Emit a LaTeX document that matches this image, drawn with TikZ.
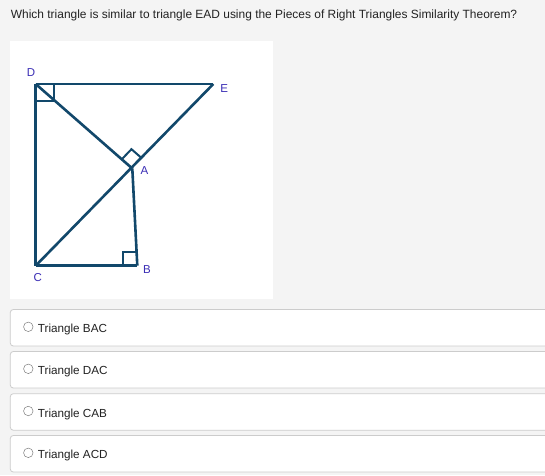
\documentclass[tikz,border=0pt]{standalone}
\usepackage{fontspec}
\setmainfont{Liberation Sans}
\usetikzlibrary{calc}
\definecolor{pagebg}{HTML}{F4F4F4}
\definecolor{boxline}{HTML}{CCCCCC}
\definecolor{geo}{HTML}{12486B}
\definecolor{lbl}{HTML}{3A2DB5}
\definecolor{txt}{HTML}{222222}
\begin{document}
\begin{tikzpicture}[x=1pt,y=-1pt,
  seg/.style={draw=geo,line width=2.6pt},
  ramark/.style={draw=geo,line width=2pt},
  ptlabel/.style={text=lbl,font=\fontsize{11.5}{13}\selectfont,inner sep=0pt},
  optbox/.style={draw=boxline,fill=white,line width=0.8pt,rounded corners=3pt},
  opttext/.style={anchor=base west,inner sep=0pt,text=txt,font=\fontsize{11.7}{14}\selectfont},
  radio/.style={draw=black!50,fill=white,line width=0.5pt,circle,minimum size=9.5pt,inner sep=0pt}]
\useasboundingbox (0,0) rectangle (545,475);
\fill[pagebg] (0,0) rectangle (545,475);
\node[anchor=base west,inner sep=0pt,text=txt,font=\fontsize{11.95}{14}\selectfont] (q) at (10.7,18.5) {Which triangle is similar to triangle EAD using the Pieces of Right Triangles Similarity Theorem?};
% figure panel
\fill[white] (10,41) rectangle (272.5,299);
\coordinate (D) at (35.7,84);
\coordinate (E) at (213.3,84);
\coordinate (A) at (132.3,168.5);
\coordinate (C) at (35.7,265.7);
\coordinate (B) at (137.3,265.7);
% right angle marks
\draw[ramark] ($(D)+(18,0)$) -- ($(D)+(18,16.5)$) -- ($(D)+(0,16.5)$);
\draw[ramark] ($(A)!14pt!(D)$) -- ($(A)!14pt!(D)+(A)!14pt!(E)-(A)$) -- ($(A)!14pt!(E)$);
\draw[ramark] ($(B)+(-14,0)$) -- ($(B)+(-14,-14)$) -- ($(B)+(0,-14)$);
% segments
\draw[seg] (D) -- (E);
\draw[seg] (D) -- (C);
\draw[seg] (C) -- (B);
\draw[seg] (B) -- (A);
\draw[seg] (C) -- (E);
\draw[seg] (D) -- (A);
% labels
\node[ptlabel] (lD) at (31,72.5) {D};
\node[ptlabel] (lE) at (224.3,88.3) {E};
\node[ptlabel] (lA) at (144.5,170.5) {A};
\node[ptlabel] (lB) at (147,269.3) {B};
\node[ptlabel] (lC) at (37.7,277.7) {C};
% options
\foreach \i/\t/\lab in {0/309.5/BAC,1/351.5/DAC,2/393.7/CAB,3/435.5/ACD}{
  \draw[optbox] (10.3,\t) rectangle (560,\t+36.5);
  \node[radio] (r\i) at (28.3,\t+17.3) {};
  \node[opttext] (o\i) at (37.7,\t+23.3) {Triangle \lab};
}
\end{tikzpicture}
\end{document}
